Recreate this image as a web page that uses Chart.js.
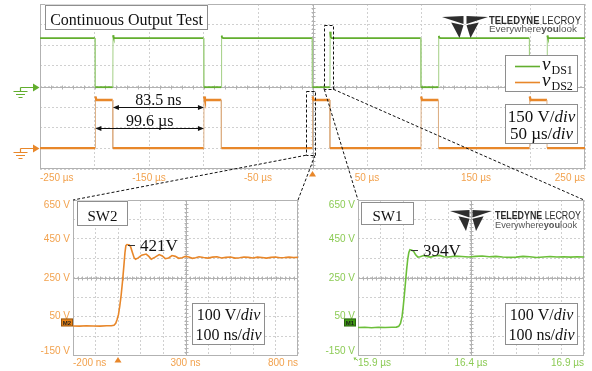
<!DOCTYPE html>
<html>
<head>
<meta charset="utf-8">
<script src="https://cdn.jsdelivr.net/npm/chart.js@4.4.1/dist/chart.umd.min.js"></script>
<style>
  html, body { margin: 0; padding: 0; background: #fff; }
  #wrap { position: relative; width: 592px; height: 371px; overflow: hidden; background: #fff; }
  canvas { position: absolute; }
  #overview { left: 0; top: 0; }
  #sw2 { left: 0; top: 190px; }
  #sw1 { left: 300px; top: 190px; }
  #links { left: 0; top: 0; pointer-events: none; }
</style>
</head>
<body>
<div id="wrap">
  <canvas id="overview" width="592" height="190"></canvas>
  <canvas id="sw2" width="300" height="181"></canvas>
  <canvas id="sw1" width="292" height="181"></canvas>
  <canvas id="links" width="592" height="371"></canvas>
</div>
<script>
// ---------- overview acquisition: 50 µs/div, 150 V/div ----------
const overviewTicks = [-250, -200, -150, -100, -50, 0, 50, 100, 150, 200, 250];
const overviewTickLabels = ['-250 µs', '', '-150 µs', '', '-50 µs', '', '50 µs', '', '150 µs', '', '250 µs'];
const overviewVoltTicks = [-600, -450, -300, -150, 0, 150, 300, 450, 600];
const vds2Offset = -450; // channel 2 is shown three divisions below channel 1

// vDS1 (µs, V)
const vds1Time = [-250,
  -199.5, -199.3, -183.2, -183.0, -182.5, -181.6,
  -99.9, -99.7, -83.6, -83.4, -82.9, -82.0,
  -0.3, -0.1, 16.0, 16.2, 16.7, 17.6,
  99.3, 99.5, 115.6, 115.8, 116.3, 117.2,
  198.9, 199.1, 215.2, 215.4, 215.9, 216.8,
  250];
const vds1Volts = [352,
  352, -5, -5, 372, 358, 352,
  352, -5, -5, 370, 357, 352,
  352, -5, -5, 398, 360, 352,
  352, -5, -5, 368, 356, 352,
  352, -5, -5, 371, 357, 352,
  352];

// vDS2 (µs, V)
const vds2Time = [-250,
  -199.3, -199.1, -198.3, -183.3, -183.2,
  -99.7, -99.5, -98.7, -83.7, -83.6,
  -0.1, 0.1, 0.9, 15.9, 16.0,
  99.5, 99.7, 100.5, 115.5, 115.6,
  199.1, 199.3, 200.1, 215.1, 215.2,
  250];
const vds2Volts = [2,
  2, 378, 352, 352, 2,
  2, 378, 352, 352, 2,
  2, 378, 352, 352, 2,
  2, 378, 352, 352, 2,
  2, 378, 352, 352, 2,
  2];

// measured spans (µs)
const offTimeStart = -183.1, offTimeEnd = -99.6;
const periodStart = -199.2, periodEnd = -99.6;

// zoom windows marked on the overview (µs, channel-1 volts)
const sw2Window = { t0: -6, t1: 2.3, v0: -500, v1: -35 };
const sw1Window = { t0: 10.8, t1: 19.1, v0: -20, v1: 445 };

// ---------- detail acquisitions: 100 ns/div, 100 V/div ----------
const detailVoltTicks = [-150, -50, 50, 150, 250, 350, 450, 550, 650];
const detailVoltLabels = ['-150 V', '', '50 V', '', '250 V', '', '450 V', '', '650 V'];

const sw2Ticks = [-200, -100, 0, 100, 200, 300, 400, 500, 600, 700, 800];
const sw2TickLabels = ['-200 ns', '', '', '', '', '300 ns', '', '', '', '', '800 ns'];
const sw2Time = [-200, -170, -140, -110, -80, -50, -30, -18, -10, -4,
  2, 8, 14, 20, 26, 31, 35, 40, 50, 56,
  64, 72, 78, 90, 105, 125, 137, 148, 165, 183,
  197, 210, 225, 240, 255, 270, 285, 300, 315, 330,
  345, 360, 380, 400, 420, 440, 460, 480, 500, 520,
  540, 560, 580, 600, 620, 640, 660, 680, 700, 720,
  740, 760, 780, 800];
const sw2Volts = [2, 1, 3, 2, 1, 3, 3, 6, 16, 35,
  60, 105, 160, 230, 310, 380, 415, 421, 419, 410,
  380, 352, 345, 352, 366, 372, 360, 345, 356, 369,
  362, 348, 352, 364, 360, 350, 353, 360, 357, 350,
  353, 358, 354, 351, 356, 358, 352, 355, 357, 351,
  353, 357, 355, 352, 356, 354, 351, 355, 357, 353,
  354, 356, 354, 355];

const sw1Ticks = [15.9, 16.0, 16.1, 16.2, 16.3, 16.4, 16.5, 16.6, 16.7, 16.8, 16.9];
const sw1TickLabels = ['15.9 µs', '', '', '', '', '16.4 µs', '', '', '', '', '16.9 µs'];
const sw1Time = [15.90, 15.93, 15.96, 15.99, 16.02, 16.05, 16.07, 16.08, 16.088, 16.095,
  16.10, 16.105, 16.11, 16.115, 16.12, 16.125, 16.13, 16.135, 16.145, 16.155,
  16.165, 16.175, 16.19, 16.205, 16.22, 16.24, 16.26, 16.28, 16.30, 16.33,
  16.36, 16.39, 16.42, 16.45, 16.48, 16.51, 16.54, 16.57, 16.60, 16.63,
  16.66, 16.69, 16.72, 16.75, 16.78, 16.81, 16.84, 16.87, 16.90];
const sw1Volts = [-6, -5, -7, -5, -6, -5, -4, 0, 15, 50,
  100, 160, 225, 290, 345, 380, 394, 393, 388, 368,
  356, 358, 364, 360, 356, 362, 365, 358, 357, 361,
  359, 357, 360, 362, 358, 360, 357, 355, 356, 360,
  358, 354, 357, 359, 357, 358, 356, 358, 357];

// ---------- styling ----------
const GREEN = '#62ae2e', GREEN_EDGE = '#a3cf85', GREEN_TEXT = '#8ccb55', GREEN_TAG = '#3f9a14';
const ORANGE = '#e8872a', ORANGE_EDGE = '#ddb086', ORANGE_TEXT = '#f2a24e', ORANGE_TAG = '#ea8418';
const GRID = '#d0d0d0', FRAME = '#b2b2b2', BOX = '#8e8e8e';
const SERIF = '"Liberation Serif", "Times New Roman", serif';
const SANS = '"Liberation Sans", Arial, sans-serif';

const toPoints = (ts, vs, off = 0) => ts.map((t, i) => ({ x: t, y: vs[i] + off }));
const isEdge = c => Math.abs(c.p1.parsed.x - c.p0.parsed.x) < 0.3 && Math.abs(c.p1.parsed.y - c.p0.parsed.y) > 150;

// oscilloscope graticule: centre cross with minor ticks and outer frame
const graticule = {
  id: 'graticule',
  beforeDatasetsDraw(chart) {
    const { ctx, chartArea: a } = chart;
    const nx = chart.scales.x.ticks.length - 1, ny = chart.scales.y.ticks.length - 1;
    const cx = Math.round((a.left + a.right) / 2) + 0.5, cy = Math.round((a.top + a.bottom) / 2) + 0.5;
    ctx.save();
    ctx.strokeStyle = FRAME; ctx.lineWidth = 1;
    ctx.beginPath();
    ctx.moveTo(a.left, cy); ctx.lineTo(a.right, cy);
    ctx.moveTo(cx, a.top); ctx.lineTo(cx, a.bottom);
    const dx = (a.right - a.left) / (nx * 5), dy = (a.bottom - a.top) / (ny * 5);
    for (let i = 1; i < nx * 5; i++) { const px = Math.round(a.left + i * dx) + 0.5; ctx.moveTo(px, cy - 2); ctx.lineTo(px, cy + 2); }
    for (let j = 1; j < ny * 5; j++) { const py = Math.round(a.top + j * dy) + 0.5; ctx.moveTo(cx - 2, py); ctx.lineTo(cx + 2, py); }
    ctx.stroke();
    ctx.strokeRect(Math.round(a.left) + 0.5, Math.round(a.top) + 0.5, Math.round(a.right - a.left) - 1, Math.round(a.bottom - a.top) - 1);
    ctx.restore();
  }
};

function panelBox(ctx, x, y, w, h) {
  ctx.save();
  ctx.fillStyle = '#fff'; ctx.fillRect(x, y, w, h);
  ctx.strokeStyle = BOX; ctx.lineWidth = 1;
  ctx.strokeRect(Math.round(x) + 0.5, Math.round(y) + 0.5, Math.round(w) - 1, Math.round(h) - 1);
  ctx.restore();
}

function richLine(ctx, parts, cx, baseline, size) {
  ctx.save();
  ctx.fillStyle = '#111'; ctx.textAlign = 'left'; ctx.textBaseline = 'alphabetic';
  const fonts = parts.map(([, it]) => `${it ? 'italic ' : ''}${size}px ${SERIF}`);
  const widths = parts.map(([t], i) => { ctx.font = fonts[i]; return ctx.measureText(t).width; });
  let x = cx - widths.reduce((s, w) => s + w, 0) / 2;
  parts.forEach(([t], i) => { ctx.font = fonts[i]; ctx.fillText(t, x, baseline); x += widths[i]; });
  ctx.restore();
}

function scaleBox(ctx, x, y, w, h, perDiv, timeDiv, size, b1, b2) {
  panelBox(ctx, x, y, w, h);
  richLine(ctx, [[perDiv + '/', false], ['div', true]], x + w / 2, y + b1, size);
  richLine(ctx, [[timeDiv + '/', false], ['div', true]], x + w / 2, y + b2, size);
}

function labelBox(ctx, x, y, w, h, text, size, baseline) {
  panelBox(ctx, x, y, w, h);
  ctx.save();
  ctx.fillStyle = '#111'; ctx.font = `${size}px ${SERIF}`; ctx.textAlign = 'center';
  ctx.fillText(text, x + w / 2, y + baseline);
  ctx.restore();
}

function fitText(ctx, parts, x, baseline, width, size, color) {
  ctx.save();
  ctx.fillStyle = color; ctx.textAlign = 'left';
  const fonts = parts.map(([, b]) => `${b ? 'bold ' : ''}${size}px ${SANS}`);
  const widths = parts.map(([t], i) => { ctx.font = fonts[i]; return ctx.measureText(t).width; });
  const total = widths.reduce((s, w) => s + w, 0);
  ctx.translate(x, baseline); ctx.scale(width / total, 1);
  let cx = 0;
  parts.forEach(([t], i) => { ctx.font = fonts[i]; ctx.fillText(t, cx, 0); cx += widths[i]; });
  ctx.restore();
}

function drawLogo(ctx, x, y, w, h, textX, textW, base1, base2) {
  const cx = x + w / 2;
  const wedges = [
    [[x, y + 1], [cx - 1.5, y], [cx - 1.5, y + h * 0.36]],
    [[x + w * 0.2, y + h * 0.3], [cx - 1.5, y + h * 0.42], [cx - w * 0.12, y + h]],
    [[x + w * 0.8, y + h * 0.3], [cx + 1.5, y + h * 0.42], [cx + w * 0.12, y + h]],
    [[x + w, y + 1], [cx + 1.5, y], [cx + 1.5, y + h * 0.36]]
  ];
  ctx.save();
  ctx.fillStyle = '#2e2e2e';
  for (const tri of wedges) {
    ctx.beginPath(); ctx.moveTo(...tri[0]); ctx.lineTo(...tri[1]); ctx.lineTo(...tri[2]); ctx.closePath(); ctx.fill();
  }
  ctx.restore();
  fitText(ctx, [['TELEDYNE', true], [' LECROY', false]], textX, base1, textW, 10.5, '#2a2a2a');
  fitText(ctx, [['Everywhere', false], ['you', true], ['look', false]], textX, base2, textW - 4, 9.5, '#555');
}

function drawGround(ctx, left, y, color) {
  const gx = left - 19.5;
  y = Math.round(y) + 0.5;
  ctx.save();
  ctx.strokeStyle = color; ctx.fillStyle = color; ctx.lineWidth = 1.2;
  ctx.beginPath();
  ctx.moveTo(gx, y); ctx.lineTo(left - 6, y);
  ctx.moveTo(gx, y); ctx.lineTo(gx, y + 4);
  ctx.moveTo(gx - 7, y + 4); ctx.lineTo(gx + 7, y + 4);
  ctx.moveTo(gx - 4.5, y + 7); ctx.lineTo(gx + 4.5, y + 7);
  ctx.moveTo(gx - 2, y + 10); ctx.lineTo(gx + 2, y + 10);
  ctx.stroke();
  ctx.beginPath(); ctx.moveTo(left - 7, y - 4); ctx.lineTo(left - 0.5, y); ctx.lineTo(left - 7, y + 4); ctx.closePath(); ctx.fill();
  ctx.restore();
}

function drawTrigger(ctx, x, top, color) {
  ctx.save(); ctx.fillStyle = color;
  ctx.beginPath(); ctx.moveTo(x, top); ctx.lineTo(x + 3.5, top + 5.5); ctx.lineTo(x - 3.5, top + 5.5); ctx.closePath(); ctx.fill();
  ctx.restore();
}

function arrowHead(ctx, x, y, dir) {
  ctx.beginPath(); ctx.moveTo(x, y); ctx.lineTo(x - dir * 6, y - 2.5); ctx.lineTo(x - dir * 6, y + 2.5); ctx.closePath(); ctx.fill();
}

function drawSpan(ctx, x0, x1, y, text) {
  y = Math.round(y) + 0.5;
  ctx.save();
  ctx.strokeStyle = '#111'; ctx.fillStyle = '#111'; ctx.lineWidth = 1;
  ctx.beginPath(); ctx.moveTo(x0 + 3, y); ctx.lineTo(x1 - 3, y); ctx.stroke();
  arrowHead(ctx, x0, y, -1); arrowHead(ctx, x1, y, 1);
  ctx.font = `16px ${SERIF}`; ctx.textAlign = 'center';
  ctx.fillText(text, (x0 + x1) / 2, y - 3);
  ctx.restore();
}

function windowRect(chart, win) {
  const { x, y } = chart.scales;
  return { l: x.getPixelForValue(win.t0), r: x.getPixelForValue(win.t1), t: y.getPixelForValue(win.v1), b: y.getPixelForValue(win.v0) };
}

function drawVoltLabels(chart, color) {
  const { ctx, chartArea: a, scales: { y } } = chart;
  ctx.save();
  ctx.font = `10px ${SANS}`; ctx.fillStyle = color; ctx.textAlign = 'right'; ctx.textBaseline = 'middle';
  detailVoltTicks.forEach((v, i) => {
    const lab = detailVoltLabels[i];
    if (!lab) return;
    let py = y.getPixelForValue(v);
    if (i === detailVoltTicks.length - 1) py += 5;
    if (i === 0) py -= 4;
    ctx.fillText(lab, a.left - 3, py);
  });
  ctx.restore();
}

function channelTag(ctx, right, y, text, fill) {
  ctx.save();
  ctx.fillStyle = fill; ctx.fillRect(right - 12, y - 4, 12, 8);
  ctx.strokeStyle = 'rgba(0,0,0,0.35)'; ctx.strokeRect(right - 11.5, y - 3.5, 11, 7);
  ctx.fillStyle = '#1e1e1e'; ctx.font = `bold 6px ${SANS}`; ctx.textAlign = 'center'; ctx.textBaseline = 'middle';
  ctx.fillText(text, right - 6, y + 0.5);
  ctx.restore();
}

function peakLabel(chart, ts, vs) {
  const { ctx, scales: { x, y } } = chart;
  const peak = Math.max(...vs);
  const px = x.getPixelForValue(ts[vs.indexOf(peak)]), py = Math.round(y.getPixelForValue(peak)) + 0.5;
  ctx.save();
  ctx.strokeStyle = '#333'; ctx.lineWidth = 1;
  ctx.beginPath(); ctx.moveTo(px + 1, py); ctx.lineTo(px + 8, py); ctx.stroke();
  ctx.fillStyle = '#111'; ctx.font = `17px ${SERIF}`; ctx.textAlign = 'left';
  ctx.fillText(`${peak}V`, px + 13, py + 5);
  ctx.restore();
}

function scopeOptions(cfg) {
  return {
    responsive: false, animation: false, devicePixelRatio: 1,
    layout: { padding: cfg.padding },
    events: [],
    plugins: { legend: { display: false }, tooltip: { enabled: false } },
    elements: { point: { radius: 0 }, line: { tension: 0 } },
    scales: {
      x: {
        type: 'linear', min: cfg.xTicks[0], max: cfg.xTicks[cfg.xTicks.length - 1],
        afterBuildTicks: s => { s.ticks = cfg.xTicks.map(v => ({ value: v })); },
        afterFit: s => { s.height = cfg.xHeight; },
        grid: { color: GRID, drawTicks: false },
        border: { display: false, dash: [2, 2] },
        ticks: {
          align: 'inner', padding: cfg.tickPad, color: cfg.tickColor, autoSkip: false, maxRotation: 0,
          font: { family: SANS, size: 10 },
          callback: (v, i) => cfg.xLabels[i]
        }
      },
      y: {
        type: 'linear', min: cfg.yTicks[0], max: cfg.yTicks[cfg.yTicks.length - 1],
        afterBuildTicks: s => { s.ticks = cfg.yTicks.map(v => ({ value: v })); },
        afterFit: s => { s.width = 0; },
        grid: { color: GRID, drawTicks: false },
        border: { display: false, dash: [2, 2] },
        ticks: { display: false }
      }
    }
  };
}

// ---------- overview chart ----------
const overview = new Chart(document.getElementById('overview'), {
  type: 'line',
  data: {
    datasets: [
      { label: 'vDS1', data: toPoints(vds1Time, vds1Volts), borderColor: GREEN, borderWidth: 1.8,
        segment: { borderColor: c => isEdge(c) ? GREEN_EDGE : undefined, borderWidth: c => isEdge(c) ? 1 : undefined } },
      { label: 'vDS2', data: toPoints(vds2Time, vds2Volts, vds2Offset), borderColor: ORANGE, borderWidth: 2.3,
        segment: { borderColor: c => isEdge(c) ? ORANGE_EDGE : undefined, borderWidth: c => isEdge(c) ? 1 : undefined } }
    ]
  },
  options: scopeOptions({
    padding: { left: 40, right: 7, top: 4, bottom: 0 },
    xTicks: overviewTicks, xLabels: overviewTickLabels, yTicks: overviewVoltTicks,
    xHeight: 21, tickPad: 3, tickColor: ORANGE_TEXT
  }),
  plugins: [graticule, {
    id: 'overviewNotes',
    afterDraw(chart) {
      const { ctx, chartArea: a, scales: { x, y } } = chart;
      drawGround(ctx, a.left, y.getPixelForValue(0), GREEN);
      drawGround(ctx, a.left, y.getPixelForValue(vds2Offset), ORANGE);
      drawTrigger(ctx, x.getPixelForValue(0), a.bottom + 2, ORANGE);

      // zoom windows
      ctx.save();
      ctx.strokeStyle = '#111'; ctx.lineWidth = 1; ctx.setLineDash([3, 2]);
      for (const w of [sw2Window, sw1Window]) {
        const r = windowRect(chart, w);
        ctx.strokeRect(Math.round(r.l) + 0.5, Math.round(r.t) + 0.5, Math.round(r.r - r.l), Math.round(r.b - r.t));
      }
      ctx.restore();

      // measured spans
      drawSpan(ctx, x.getPixelForValue(offTimeStart), x.getPixelForValue(offTimeEnd), y.getPixelForValue(-150),
        `${(offTimeEnd - offTimeStart).toFixed(1)} ns`);
      drawSpan(ctx, x.getPixelForValue(periodStart), x.getPixelForValue(periodEnd), y.getPixelForValue(-300),
        `${(periodEnd - periodStart).toFixed(1)} µs`);

      labelBox(ctx, 45, 4.5, 163, 25, 'Continuous Output Test', 16, 20.5);
      drawLogo(ctx, 442, 16, 46, 22, 489, 92, 24, 32);

      // legend
      panelBox(ctx, 505, 55, 73, 37);
      chart.data.datasets.forEach((ds, i) => {
        const ly = 66.5 + i * 16;
        ctx.save();
        ctx.strokeStyle = ds.borderColor; ctx.lineWidth = 1.6;
        ctx.beginPath(); ctx.moveTo(515, ly); ctx.lineTo(540, ly); ctx.stroke();
        ctx.fillStyle = '#111'; ctx.textAlign = 'left';
        ctx.font = `italic 19px ${SERIF}`; ctx.fillText('v', 542, ly + 3);
        ctx.font = `12px ${SERIF}`; ctx.fillText(ds.label.slice(1), 551.5, ly + 7.5);
        ctx.restore();
      });

      scaleBox(ctx, 505, 104, 73, 40, '150 V', '50 µs', 17, 17.5, 34.5);
    }
  }]
});

// ---------- SW2 detail ----------
const sw2 = new Chart(document.getElementById('sw2'), {
  type: 'line',
  data: { datasets: [{ label: 'SW2', data: toPoints(sw2Time, sw2Volts), borderColor: ORANGE, borderWidth: 1.6 }] },
  options: scopeOptions({
    padding: { left: 73, right: 1, top: 10, bottom: 0 },
    xTicks: sw2Ticks, xLabels: sw2TickLabels, yTicks: detailVoltTicks,
    xHeight: 15.5, tickPad: 2, tickColor: ORANGE_TEXT
  }),
  plugins: [graticule, {
    id: 'sw2Notes',
    afterDraw(chart) {
      const { ctx, chartArea: a, scales: { x, y } } = chart;
      drawVoltLabels(chart, ORANGE_TEXT);
      channelTag(ctx, a.left, y.getPixelForValue(20), 'M2', ORANGE_TAG);
      drawTrigger(ctx, x.getPixelForValue(0), a.bottom + 1.5, ORANGE);
      labelBox(ctx, a.left + 4, a.top + 0.5, 51, 25, 'SW2', 15, 20);
      peakLabel(chart, sw2Time, sw2Volts);
      scaleBox(ctx, a.left + 119, a.top + 102.5, 73, 42, '100 V', '100 ns', 16, 17.5, 37.5);
    }
  }]
});

// ---------- SW1 detail ----------
const sw1 = new Chart(document.getElementById('sw1'), {
  type: 'line',
  data: { datasets: [{ label: 'SW1', data: toPoints(sw1Time, sw1Volts), borderColor: '#6cbf3a', borderWidth: 1.6 }] },
  options: scopeOptions({
    padding: { left: 58, right: 8, top: 10, bottom: 0 },
    xTicks: sw1Ticks, xLabels: sw1TickLabels, yTicks: detailVoltTicks,
    xHeight: 15.5, tickPad: 2, tickColor: GREEN_TEXT
  }),
  plugins: [graticule, {
    id: 'sw1Notes',
    afterDraw(chart) {
      const { ctx, chartArea: a, scales: { y } } = chart;
      drawVoltLabels(chart, GREEN_TEXT);
      channelTag(ctx, a.left - 2, y.getPixelForValue(20), 'M1', GREEN_TAG);
      // trigger lies off the left edge
      ctx.save();
      ctx.strokeStyle = GREEN_TEXT; ctx.fillStyle = GREEN_TEXT; ctx.lineWidth = 1;
      ctx.beginPath(); ctx.moveTo(a.left, a.bottom + 5); ctx.lineTo(a.left - 3, a.bottom + 3); ctx.stroke();
      ctx.beginPath(); ctx.moveTo(a.left - 4.5, a.bottom + 2); ctx.lineTo(a.left - 1.5, a.bottom + 2); ctx.lineTo(a.left - 3.5, a.bottom + 5); ctx.closePath(); ctx.fill();
      ctx.restore();
      labelBox(ctx, a.left + 3, a.top + 2, 53, 23, 'SW1', 15, 19);
      drawLogo(ctx, a.left + 92, a.top + 10, 42, 21, a.left + 137, 86, 29 - 10 + a.top - 0, 38 + a.top - 10);
      peakLabel(chart, sw1Time, sw1Volts);
      scaleBox(ctx, a.left + 147, a.top + 102.5, 73, 42, '100 V', '100 ns', 16, 17.5, 37.5);
    }
  }]
});

// ---------- dashed links from the overview windows to the detail panels ----------
(function drawLinks() {
  const ctx = document.getElementById('links').getContext('2d');
  ctx.strokeStyle = '#111'; ctx.lineWidth = 1; ctx.setLineDash([3, 2]);
  const link = (win, detail, el) => {
    const r = windowRect(overview, win), a = detail.chartArea;
    const ox = el.offsetLeft, oy = el.offsetTop;
    ctx.beginPath();
    ctx.moveTo(r.l, r.b); ctx.lineTo(ox + a.left, oy + a.top);
    ctx.moveTo(r.r, r.b); ctx.lineTo(ox + a.right, oy + a.top);
    ctx.stroke();
  };
  link(sw2Window, sw2, document.getElementById('sw2'));
  link(sw1Window, sw1, document.getElementById('sw1'));
})();
</script>
</body>
</html>
